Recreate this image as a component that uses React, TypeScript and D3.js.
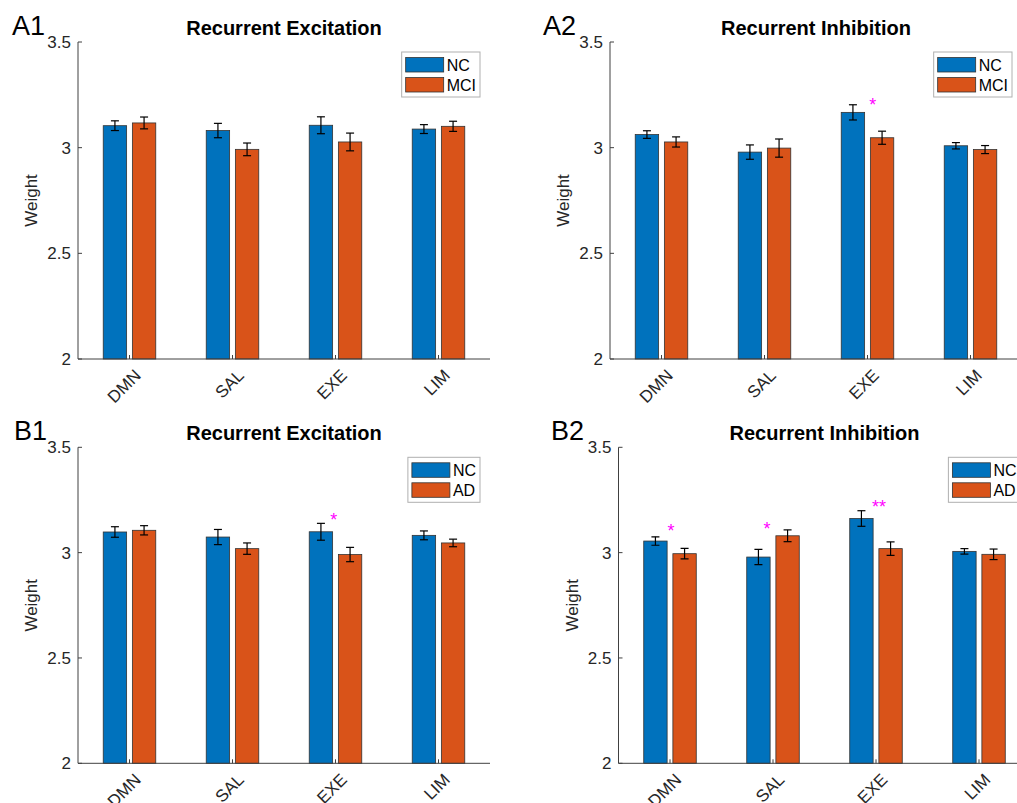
import React from 'react';
import * as d3 from 'd3';

const categories = ['DMN', 'SAL', 'EXE', 'LIM'];
const yTicks = [2, 2.5, 3, 3.5];
const yTickLabels = ['2', '2.5', '3', '3.5'];

const a1NC = [3.104, 3.081, 3.106, 3.088];
const a1NCErr = [0.023, 0.034, 0.040, 0.021];
const a1MCI = [3.117, 2.992, 3.027, 3.101];
const a1MCIErr = [0.028, 0.030, 0.042, 0.024];

const a2NC = [3.062, 2.979, 3.167, 3.009];
const a2NCErr = [0.018, 0.034, 0.036, 0.015];
const a2MCI = [3.027, 2.998, 3.047, 2.991];
const a2MCIErr = [0.024, 0.043, 0.031, 0.019];

const b1NC = [3.098, 3.074, 3.099, 3.082];
const b1NCErr = [0.025, 0.036, 0.040, 0.021];
const b1AD = [3.106, 3.019, 2.991, 3.046];
const b1ADErr = [0.022, 0.027, 0.034, 0.018];

const b2NC = [3.055, 2.979, 3.162, 3.006];
const b2NCErr = [0.020, 0.036, 0.037, 0.013];
const b2AD = [2.995, 3.080, 3.019, 2.992];
const b2ADErr = [0.025, 0.028, 0.032, 0.025];

const a2Stars = [{ cat: 2, dx: 0.05, value: 3.223, text: '*' }];
const b1Stars = [{ cat: 2, dx: -0.017, value: 3.173, text: '*' }];
const b2Stars = [
  { cat: 0, dx: 0.01, value: 3.123, text: '*' },
  { cat: 1, dx: -0.058, value: 3.131, text: '*' },
  { cat: 2, dx: 0.03, value: 3.237, text: '**' },
];

const BLUE = '#0072BD';
const ORANGE = '#D95319';
const AXIS = '#404040';
const FONT = "'Liberation Sans', Arial, Helvetica, sans-serif";

function textWidth(t: string, font: string) {
  const c = document.createElement('canvas');
  const ctx = c.getContext('2d');
  if (!ctx) return t.length * 9;
  ctx.font = font;
  return ctx.measureText(t).width;
}

type Star = { cat: number; dx: number; value: number; text: string };

function Panel(props: {
  label: string; title: string; left: number; right: number; top: number; bottom: number;
  nc: number[]; ncErr: number[]; g2: number[]; g2Err: number[]; g2Name: string;
  stars: Star[]; labelX: number; clipId: string; clipH: number; clipY: number;
}) {
  const { label, title, left, right, top, bottom, nc, ncErr, g2, g2Err, g2Name, stars, labelX } = props;
  const x = d3.scaleLinear().domain([0.5, categories.length + 0.5]).range([left, right]);
  const y = d3.scaleLinear().domain([2, 3.5]).range([bottom, top]);
  const off = 0.1415;
  const bw = 0.227;
  const series = [
    { vals: nc, errs: ncErr, color: BLUE, o: -off },
    { vals: g2, errs: g2Err, color: ORANGE, o: off },
  ];
  const legFont = `16px ${FONT}`;
  const tw = Math.max(textWidth('NC', legFont), textWidth(g2Name, legFont));
  const legW = 4 + 38 + 3 + tw + 4;
  const legR = right - 10;
  const legL = legR - legW;
  const legT = top + 10;
  return (
    <g clipPath={`url(#${props.clipId})`}>
      <defs>
        <clipPath id={props.clipId}>
          <rect x={left - 80} y={props.clipY} width={right - left + 120} height={props.clipH} />
        </clipPath>
      </defs>
      <text x={labelX} y={top - 7} fontSize={27} fontFamily={FONT} fill="#000">{label}</text>
      <text x={(left + right) / 2} y={top - 7} fontSize={20} fontWeight="bold" textAnchor="middle" fontFamily={FONT} fill="#000">{title}</text>
      {series.map((s, si) =>
        s.vals.map((v, i) => {
          const c = i + 1 + s.o;
          const x0 = x(c - bw / 2);
          const x1 = x(c + bw / 2);
          return (
            <rect key={`b${si}-${i}`} x={x0} y={y(v)} width={x1 - x0} height={y(2) - y(v)}
              fill={s.color} stroke="#333" strokeWidth={0.8} />
          );
        })
      )}
      {series.map((s, si) =>
        s.vals.map((v, i) => {
          const cx = x(i + 1 + s.o);
          const e = s.errs[i];
          return (
            <g key={`e${si}-${i}`} stroke="#000" strokeWidth={1.2}>
              <line x1={cx} x2={cx} y1={y(v + e)} y2={y(v - e)} />
              <line x1={cx - 4} x2={cx + 4} y1={y(v + e)} y2={y(v + e)} />
              <line x1={cx - 4} x2={cx + 4} y1={y(v - e)} y2={y(v - e)} />
            </g>
          );
        })
      )}
      {stars.map((s, i) => (
        <text key={`s${i}`} x={x(s.cat + 1 + s.dx)} y={y(s.value) + 10} fontSize={18} textAnchor="middle"
          fontFamily={FONT} fill="#FF00FF">{s.text}</text>
      ))}
      <line x1={left} x2={left} y1={top} y2={bottom} stroke={AXIS} strokeWidth={1} />
      <line x1={left} x2={right} y1={bottom} y2={bottom} stroke={AXIS} strokeWidth={1} />
      {yTicks.map((t, i) => (
        <g key={`yt${i}`}>
          <line x1={left} x2={left + 4} y1={y(t)} y2={y(t)} stroke={AXIS} />
          <text x={left - 7} y={y(t) + 6} fontSize={17} textAnchor="end" fontFamily={FONT} fill="#262626">{yTickLabels[i]}</text>
        </g>
      ))}
      {categories.map((c, i) => (
        <g key={`xt${i}`}>
          <line x1={x(i + 1)} x2={x(i + 1)} y1={bottom} y2={bottom - 4} stroke={AXIS} />
          <text transform={`translate(${x(i + 1) + 12.5},${bottom + 17.5}) rotate(-45)`} fontSize={17}
            textAnchor="end" fontFamily={FONT} fill="#262626">{c}</text>
        </g>
      ))}
      <text transform={`translate(${left - 41},${(top + bottom) / 2}) rotate(-90)`} fontSize={17}
        textAnchor="middle" fontFamily={FONT} fill="#262626">Weight</text>
      <rect x={legL} y={legT} width={legW} height={45} fill="#fff" stroke="#b0b0b0" strokeWidth={1} />
      <rect x={legL + 4} y={legT + 5.5} width={38} height={14.5} fill={BLUE} stroke="#333" strokeWidth={0.8} />
      <rect x={legL + 4} y={legT + 25.5} width={38} height={14.5} fill={ORANGE} stroke="#333" strokeWidth={0.8} />
      <text x={legL + 45} y={legT + 19} fontSize={16} fontFamily={FONT} fill="#000">NC</text>
      <text x={legL + 45} y={legT + 39} fontSize={16} fontFamily={FONT} fill="#000">{g2Name}</text>
    </g>
  );
}

export default function App() {
  return (
    <svg width={1017} height={803} style={{ position: 'absolute', left: 0, top: 0, background: '#fff' }}>
      <rect x={0} y={0} width={1017} height={803} fill="#fff" />
      <Panel label="A1" title="Recurrent Excitation" left={78} right={490} top={42} bottom={359}
        nc={a1NC} ncErr={a1NCErr} g2={a1MCI} g2Err={a1MCIErr} g2Name="MCI" stars={[]} labelX={12}
        clipId="cA1" clipY={0} clipH={403} />
      <Panel label="A2" title="Recurrent Inhibition" left={610} right={1022} top={42} bottom={359}
        nc={a2NC} ncErr={a2NCErr} g2={a2MCI} g2Err={a2MCIErr} g2Name="MCI" stars={a2Stars} labelX={543}
        clipId="cA2" clipY={0} clipH={403} />
      <Panel label="B1" title="Recurrent Excitation" left={78} right={490} top={447.3} bottom={763.3}
        nc={b1NC} ncErr={b1NCErr} g2={b1AD} g2Err={b1ADErr} g2Name="AD" stars={b1Stars} labelX={14}
        clipId="cB1" clipY={405} clipH={400} />
      <Panel label="B2" title="Recurrent Inhibition" left={618.5} right={1030.5} top={447.3} bottom={763.3}
        nc={b2NC} ncErr={b2NCErr} g2={b2AD} g2Err={b2ADErr} g2Name="AD" stars={b2Stars} labelX={551}
        clipId="cB2" clipY={405} clipH={400} />
    </svg>
  );
}
